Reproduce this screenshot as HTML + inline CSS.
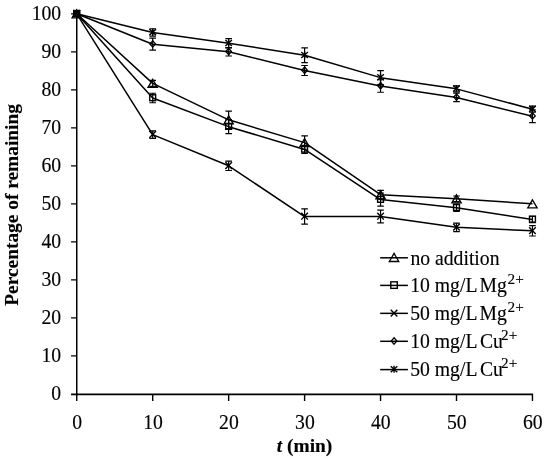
<!DOCTYPE html>
<html><head><meta charset="utf-8"><title>Chart</title>
<style>html,body{margin:0;padding:0;background:#fff}svg{display:block;will-change:transform}</style></head>
<body>
<svg width="550" height="463" viewBox="0 0 550 463">
<rect width="550" height="463" fill="#fff"/>
<g stroke="#000" stroke-width="1.6" fill="none" shape-rendering="auto">
<path d="M76.75 13.40 V395.20" stroke-width="1.5"/>
<path d="M71.05 394.4 H533.10" stroke-width="1.6"/>
<path d="M71.05 355.90 H76.75 M71.05 317.90 H76.75 M71.05 279.90 H76.75 M71.05 241.90 H76.75 M71.05 203.90 H76.75 M71.05 165.90 H76.75 M71.05 127.90 H76.75 M71.05 89.90 H76.75 M71.05 51.90 H76.75 M71.05 13.90 H76.75 M76.75 394.4 V400.90 M152.70 394.4 V400.90 M228.65 394.4 V400.90 M304.60 394.4 V400.90 M380.55 394.4 V400.90 M456.50 394.4 V400.90 M532.45 394.4 V400.90 " stroke-width="1.4"/>
</g>
<g font-family="'Liberation Serif', serif" font-size="20.2" stroke="#000" stroke-width="0.15" fill="#000">
<text transform="translate(61.2 400.40) scale(0.975 1)" text-anchor="end">0</text>
<text transform="translate(61.2 362.40) scale(0.975 1)" text-anchor="end">10</text>
<text transform="translate(61.2 324.40) scale(0.975 1)" text-anchor="end">20</text>
<text transform="translate(61.2 286.40) scale(0.975 1)" text-anchor="end">30</text>
<text transform="translate(61.2 248.40) scale(0.975 1)" text-anchor="end">40</text>
<text transform="translate(61.2 210.40) scale(0.975 1)" text-anchor="end">50</text>
<text transform="translate(61.2 172.40) scale(0.975 1)" text-anchor="end">60</text>
<text transform="translate(61.2 134.40) scale(0.975 1)" text-anchor="end">70</text>
<text transform="translate(61.2 96.40) scale(0.975 1)" text-anchor="end">80</text>
<text transform="translate(61.2 58.40) scale(0.975 1)" text-anchor="end">90</text>
<text transform="translate(61.2 20.40) scale(0.975 1)" text-anchor="end">100</text>
<text transform="translate(77.05 428.6) scale(0.975 1)" text-anchor="middle">0</text>
<text transform="translate(153.00 428.6) scale(0.975 1)" text-anchor="middle">10</text>
<text transform="translate(228.95 428.6) scale(0.975 1)" text-anchor="middle">20</text>
<text transform="translate(304.90 428.6) scale(0.975 1)" text-anchor="middle">30</text>
<text transform="translate(380.85 428.6) scale(0.975 1)" text-anchor="middle">40</text>
<text transform="translate(456.80 428.6) scale(0.975 1)" text-anchor="middle">50</text>
<text transform="translate(532.75 428.6) scale(0.975 1)" text-anchor="middle">60</text>
</g>
<text transform="translate(17.5 204.9) rotate(-90)" text-anchor="middle" font-family="'Liberation Serif', serif" font-weight="bold" font-size="19.4" stroke="#000" stroke-width="0.15">Percentage of remaining</text>
<text x="304.6" y="451.6" text-anchor="middle" font-family="'Liberation Serif', serif" font-weight="bold" font-size="19.4" stroke="#000" stroke-width="0.15"><tspan font-style="italic">t</tspan> (min)</text>
<g>
<polyline points="76.75,13.80 152.70,83.34 228.65,119.82 304.60,142.62 380.55,194.68 456.50,198.86 532.45,203.80" fill="none" stroke="#000" stroke-width="1.5" stroke-linejoin="round"/>
<path d="M76.75 12.66 V14.94 M73.45 12.66 H80.05 M73.45 14.94 H80.05 M152.70 80.30 V86.38 M149.40 80.30 H156.00 M149.40 86.38 H156.00 M228.65 111.08 V128.56 M225.35 111.08 H231.95 M225.35 128.56 H231.95 M304.60 135.97 V149.27 M301.30 135.97 H307.90 M301.30 149.27 H307.90 M380.55 190.39 V198.97 M377.25 190.39 H383.85 M377.25 198.97 H383.85 M456.50 196.01 V201.71 M453.20 196.01 H459.80 M453.20 201.71 H459.80 " stroke="#000" stroke-width="1.2" fill="none"/>
<path d="M76.75 9.80 L81.45 17.90 L72.05 17.90 Z" fill="none" stroke="#000" stroke-width="1.3" stroke-linejoin="miter"/>
<path d="M152.70 79.34 L157.40 87.44 L148.00 87.44 Z" fill="none" stroke="#000" stroke-width="1.3" stroke-linejoin="miter"/>
<path d="M228.65 115.82 L233.35 123.92 L223.95 123.92 Z" fill="none" stroke="#000" stroke-width="1.3" stroke-linejoin="miter"/>
<path d="M304.60 138.62 L309.30 146.72 L299.90 146.72 Z" fill="none" stroke="#000" stroke-width="1.3" stroke-linejoin="miter"/>
<path d="M380.55 190.68 L385.25 198.78 L375.85 198.78 Z" fill="none" stroke="#000" stroke-width="1.3" stroke-linejoin="miter"/>
<path d="M456.50 194.86 L461.20 202.96 L451.80 202.96 Z" fill="none" stroke="#000" stroke-width="1.3" stroke-linejoin="miter"/>
<path d="M532.45 199.80 L537.15 207.90 L527.75 207.90 Z" fill="none" stroke="#000" stroke-width="1.3" stroke-linejoin="miter"/>
</g>
<g>
<polyline points="76.75,13.80 152.70,98.01 228.65,126.66 304.60,149.46 380.55,199.62 456.50,207.79 532.45,219.49" fill="none" stroke="#000" stroke-width="1.5" stroke-linejoin="round"/>
<path d="M76.75 12.66 V14.94 M73.45 12.66 H80.05 M73.45 14.94 H80.05 M152.70 93.26 V102.76 M149.40 93.26 H156.00 M149.40 102.76 H156.00 M228.65 119.63 V133.69 M225.35 119.63 H231.95 M225.35 133.69 H231.95 M304.60 145.47 V153.45 M301.30 145.47 H307.90 M301.30 153.45 H307.90 M380.55 193.16 V206.08 M377.25 193.16 H383.85 M377.25 206.08 H383.85 M456.50 204.18 V211.40 M453.20 204.18 H459.80 M453.20 211.40 H459.80 M532.45 216.26 V222.72 M529.15 216.26 H535.75 M529.15 222.72 H535.75 " stroke="#000" stroke-width="1.2" fill="none"/>
<rect x="73.80" y="10.55" width="5.90" height="5.90" fill="none" stroke="#000" stroke-width="1.4"/>
<rect x="149.75" y="94.76" width="5.90" height="5.90" fill="none" stroke="#000" stroke-width="1.4"/>
<rect x="225.70" y="123.41" width="5.90" height="5.90" fill="none" stroke="#000" stroke-width="1.4"/>
<rect x="301.65" y="146.21" width="5.90" height="5.90" fill="none" stroke="#000" stroke-width="1.4"/>
<rect x="377.60" y="196.37" width="5.90" height="5.90" fill="none" stroke="#000" stroke-width="1.4"/>
<rect x="453.55" y="204.54" width="5.90" height="5.90" fill="none" stroke="#000" stroke-width="1.4"/>
<rect x="529.50" y="216.24" width="5.90" height="5.90" fill="none" stroke="#000" stroke-width="1.4"/>
</g>
<g>
<polyline points="76.75,13.80 152.70,134.64 228.65,165.80 304.60,216.53 380.55,216.53 456.50,227.36 532.45,230.86" fill="none" stroke="#000" stroke-width="1.5" stroke-linejoin="round"/>
<path d="M76.75 12.66 V14.94 M73.45 12.66 H80.05 M73.45 14.94 H80.05 M152.70 130.84 V138.44 M149.40 130.84 H156.00 M149.40 138.44 H156.00 M228.65 161.09 V170.51 M225.35 161.09 H231.95 M225.35 170.51 H231.95 M304.60 208.93 V224.13 M301.30 208.93 H307.90 M301.30 224.13 H307.90 M380.55 210.15 V222.91 M377.25 210.15 H383.85 M377.25 222.91 H383.85 M456.50 223.07 V231.65 M453.20 223.07 H459.80 M453.20 231.65 H459.80 M532.45 225.69 V236.02 M529.15 225.69 H535.75 M529.15 236.02 H535.75 " stroke="#000" stroke-width="1.2" fill="none"/>
<path d="M73.45 10.10 L80.05 16.90 M73.45 16.90 L80.05 10.10" stroke="#000" stroke-width="1.4" fill="none"/>
<path d="M149.40 130.94 L156.00 137.74 M149.40 137.74 L156.00 130.94" stroke="#000" stroke-width="1.4" fill="none"/>
<path d="M225.35 162.10 L231.95 168.90 M225.35 168.90 L231.95 162.10" stroke="#000" stroke-width="1.4" fill="none"/>
<path d="M301.30 212.83 L307.90 219.63 M301.30 219.63 L307.90 212.83" stroke="#000" stroke-width="1.4" fill="none"/>
<path d="M377.25 212.83 L383.85 219.63 M377.25 219.63 L383.85 212.83" stroke="#000" stroke-width="1.4" fill="none"/>
<path d="M453.20 223.66 L459.80 230.46 M453.20 230.46 L459.80 223.66" stroke="#000" stroke-width="1.4" fill="none"/>
<path d="M529.15 227.16 L535.75 233.96 M529.15 233.96 L535.75 227.16" stroke="#000" stroke-width="1.4" fill="none"/>
</g>
<g>
<polyline points="76.75,13.80 152.70,44.20 228.65,51.80 304.60,70.50 380.55,86.00 456.50,97.40 532.45,116.21" fill="none" stroke="#000" stroke-width="1.5" stroke-linejoin="round"/>
<path d="M76.75 12.66 V14.94 M73.45 12.66 H80.05 M73.45 14.94 H80.05 M152.70 38.20 V50.20 M149.40 38.20 H156.00 M149.40 50.20 H156.00 M228.65 47.62 V55.98 M225.35 47.62 H231.95 M225.35 55.98 H231.95 M304.60 65.48 V75.51 M301.30 65.48 H307.90 M301.30 75.51 H307.90 M380.55 79.73 V92.27 M377.25 79.73 H383.85 M377.25 92.27 H383.85 M456.50 93.11 V101.69 M453.20 93.11 H459.80 M453.20 101.69 H459.80 M532.45 109.75 V122.67 M529.15 109.75 H535.75 M529.15 122.67 H535.75 " stroke="#000" stroke-width="1.2" fill="none"/>
<path d="M76.75 10.30 L79.55 13.50 L76.75 16.70 L73.95 13.50 Z" fill="none" stroke="#000" stroke-width="1.3"/>
<path d="M152.70 40.70 L155.50 43.90 L152.70 47.10 L149.90 43.90 Z" fill="none" stroke="#000" stroke-width="1.3"/>
<path d="M228.65 48.30 L231.45 51.50 L228.65 54.70 L225.85 51.50 Z" fill="none" stroke="#000" stroke-width="1.3"/>
<path d="M304.60 67.00 L307.40 70.20 L304.60 73.40 L301.80 70.20 Z" fill="none" stroke="#000" stroke-width="1.3"/>
<path d="M380.55 82.50 L383.35 85.70 L380.55 88.90 L377.75 85.70 Z" fill="none" stroke="#000" stroke-width="1.3"/>
<path d="M456.50 93.90 L459.30 97.10 L456.50 100.30 L453.70 97.10 Z" fill="none" stroke="#000" stroke-width="1.3"/>
<path d="M532.45 112.71 L535.25 115.91 L532.45 119.11 L529.65 115.91 Z" fill="none" stroke="#000" stroke-width="1.3"/>
</g>
<g>
<polyline points="76.75,13.80 152.70,32.42 228.65,43.25 304.60,55.22 380.55,77.64 456.50,88.85 532.45,109.18" fill="none" stroke="#000" stroke-width="1.5" stroke-linejoin="round"/>
<path d="M76.75 12.66 V14.94 M73.45 12.66 H80.05 M73.45 14.94 H80.05 M152.70 28.73 V36.11 M149.40 28.73 H156.00 M149.40 36.11 H156.00 M228.65 38.54 V47.96 M225.35 38.54 H231.95 M225.35 47.96 H231.95 M304.60 47.81 V62.63 M301.30 47.81 H307.90 M301.30 62.63 H307.90 M380.55 70.65 V84.63 M377.25 70.65 H383.85 M377.25 84.63 H383.85 M456.50 85.81 V91.89 M453.20 85.81 H459.80 M453.20 91.89 H459.80 M532.45 106.14 V112.22 M529.15 106.14 H535.75 M529.15 112.22 H535.75 " stroke="#000" stroke-width="1.2" fill="none"/>
<path d="M73.45 10.50 L80.05 16.50 M73.45 16.50 L80.05 10.50 M76.75 10.00 L76.75 17.00" stroke="#000" stroke-width="1.4" fill="none"/>
<path d="M149.40 29.12 L156.00 35.12 M149.40 35.12 L156.00 29.12 M152.70 28.62 L152.70 35.62" stroke="#000" stroke-width="1.4" fill="none"/>
<path d="M225.35 39.95 L231.95 45.95 M225.35 45.95 L231.95 39.95 M228.65 39.45 L228.65 46.45" stroke="#000" stroke-width="1.4" fill="none"/>
<path d="M301.30 51.92 L307.90 57.92 M301.30 57.92 L307.90 51.92 M304.60 51.42 L304.60 58.42" stroke="#000" stroke-width="1.4" fill="none"/>
<path d="M377.25 74.34 L383.85 80.34 M377.25 80.34 L383.85 74.34 M380.55 73.84 L380.55 80.84" stroke="#000" stroke-width="1.4" fill="none"/>
<path d="M453.20 85.55 L459.80 91.55 M453.20 91.55 L459.80 85.55 M456.50 85.05 L456.50 92.05" stroke="#000" stroke-width="1.4" fill="none"/>
<path d="M529.15 105.88 L535.75 111.88 M529.15 111.88 L535.75 105.88 M532.45 105.38 L532.45 112.38" stroke="#000" stroke-width="1.4" fill="none"/>
</g>
<path d="M380.2 257.8 H407.9" stroke="#000" stroke-width="1.5"/>
<path d="M394.05 253.40 L398.75 261.50 L389.35 261.50 Z" fill="none" stroke="#000" stroke-width="1.3" stroke-linejoin="miter"/>
<text transform="translate(410.4 264.50) scale(0.975 1)" font-family="'Liberation Serif', serif" font-size="20.2" stroke="#000" stroke-width="0.15">no addition</text>
<path d="M380.2 285.4 H407.9" stroke="#000" stroke-width="1.5"/>
<rect x="390.80" y="281.85" width="6.50" height="6.50" fill="none" stroke="#000" stroke-width="1.4"/>
<text transform="translate(0 292.10) scale(0.975 1)" font-family="'Liberation Serif', serif" font-size="20.2" stroke="#000" stroke-width="0.15"><tspan x="420.72">10</tspan><tspan x="445.95">mg/L</tspan><tspan x="491.69">Mg</tspan><tspan dx="0.9" dy="-8.2" font-size="15.6">2+</tspan></text>
<path d="M380.2 313.35 H407.9" stroke="#000" stroke-width="1.5"/>
<path d="M390.75 309.65 L397.35 316.45 M390.75 316.45 L397.35 309.65" stroke="#000" stroke-width="1.4" fill="none"/>
<text transform="translate(0 320.05) scale(0.975 1)" font-family="'Liberation Serif', serif" font-size="20.2" stroke="#000" stroke-width="0.15"><tspan x="420.72">50</tspan><tspan x="445.95">mg/L</tspan><tspan x="491.69">Mg</tspan><tspan dx="0.9" dy="-8.2" font-size="15.6">2+</tspan></text>
<path d="M380.2 341.3 H407.9" stroke="#000" stroke-width="1.5"/>
<path d="M394.05 337.80 L396.85 341.00 L394.05 344.20 L391.25 341.00 Z" fill="none" stroke="#000" stroke-width="1.3"/>
<text transform="translate(0 348.00) scale(0.975 1)" font-family="'Liberation Serif', serif" font-size="20.2" stroke="#000" stroke-width="0.15"><tspan x="420.72">10</tspan><tspan x="445.95">mg/L</tspan><tspan x="492.21">Cu</tspan><tspan dx="-1.9" dy="-8.2" font-size="15.6">2+</tspan></text>
<path d="M380.2 369.6 H407.9" stroke="#000" stroke-width="1.5"/>
<path d="M390.75 366.30 L397.35 372.30 M390.75 372.30 L397.35 366.30 M394.05 365.80 L394.05 372.80" stroke="#000" stroke-width="1.4" fill="none"/>
<text transform="translate(0 376.30) scale(0.975 1)" font-family="'Liberation Serif', serif" font-size="20.2" stroke="#000" stroke-width="0.15"><tspan x="420.72">50</tspan><tspan x="445.95">mg/L</tspan><tspan x="492.21">Cu</tspan><tspan dx="-1.9" dy="-8.2" font-size="15.6">2+</tspan></text>
</svg>
</body></html>
